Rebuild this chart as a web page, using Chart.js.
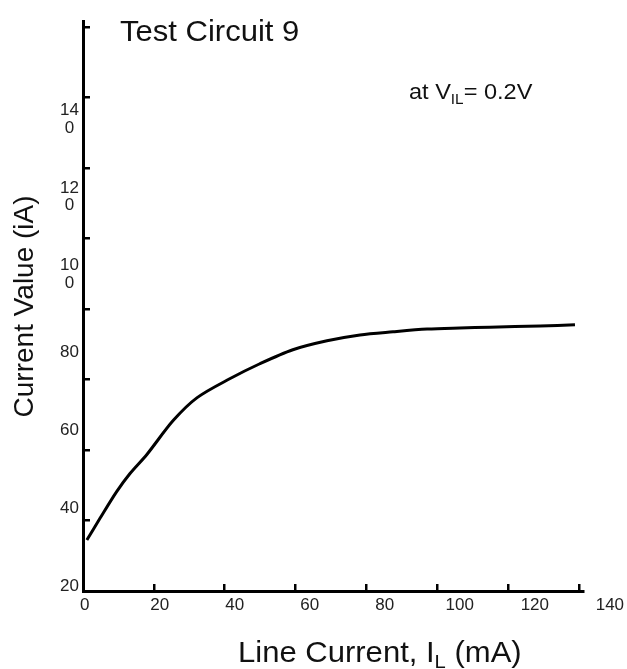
<!DOCTYPE html>
<html><head><meta charset="utf-8">
<script src="https://cdn.jsdelivr.net/npm/chart.js@4.4.1/dist/chart.umd.min.js"></script>
<style>html,body{margin:0;padding:0;background:#fff}#wrap{width:627px;height:669px;position:relative}</style>
</head><body><div id="wrap"><canvas id="c" width="627" height="669"></canvas></div>
<script>
// Data (label units)
const lineCurrent  = [0.6, 4.1, 8.5, 12.1, 16.6, 23.6, 30.0, 38.8, 46.7, 55.5, 64.6, 73.4, 82.2, 91.3, 100.0, 108.0, 121.4, 130.7];
const currentValue = [31.8, 37.4, 44.2, 48.9, 53.8, 62.5, 68.4, 73.3, 77.1, 80.7, 83.0, 84.5, 85.3, 86.0, 86.3, 86.5, 86.8, 87.1];

// Tick labels
const xTickValues = [0, 20, 40, 60, 80, 100, 120, 140];
const xTickLabels = ['0', '20', '40', '60', '80', '100', '120', '140'];
const yTickValues = [20, 40, 60, 80, 100, 120, 140];
const yTickLabels = [['20'], ['40'], ['60'], ['80'], ['10', '0'], ['12', '0'], ['14', '0']];

// Tick marks drawn on the axes
const xMarkValues = [0, 20, 40, 60, 80, 100, 120, 140];
const yMarkValues = [20, 40, 60, 80, 100, 120, 140, 160, 180];

const chartTitle = 'Test Circuit 9';
const yTitle = 'Current Value (iA)';
const noteParts = [{t: 'at V'}, {t: 'IL', sub: true}, {t: '= 0.2V'}];
const xTitleParts = [{t: 'Line Current, I'}, {t: 'L', sub: true}, {t: ' (mA)'}];

const FONT = "'Liberation Sans', Arial, sans-serif";
const STRETCH = 1.07;

function drawRich(ctx, x, y, parts, size) {
  ctx.save();
  ctx.translate(x, y);
  ctx.scale(STRETCH, 1);
  let cx = 0;
  for (const p of parts) {
    const s = p.sub ? size * 0.65 : size;
    ctx.font = s + 'px ' + FONT;
    ctx.fillText(p.t, cx, p.sub ? size * 0.22 : 0);
    cx += ctx.measureText(p.t).width;
  }
  ctx.restore();
}

const textPlugin = {
  id: 'texts',
  afterDraw(chart) {
    const {ctx, chartArea: a} = chart;
    ctx.save();
    ctx.fillStyle = '#111';
    ctx.textBaseline = 'alphabetic';
    ctx.textAlign = 'left';
    drawRich(ctx, a.left + 37, a.top + 19, [{t: chartTitle}], 29);
    drawRich(ctx, a.left + 326, a.top + 77, noteParts, 22);
    drawRich(ctx, a.left + 155, a.bottom + 71, xTitleParts, 29);
    ctx.restore();
  }
};

Chart.defaults.font.family = FONT;

new Chart(document.getElementById('c'), {
  type: 'line',
  data: {
    datasets: [{
      data: lineCurrent.map((x, i) => ({x: x, y: currentValue[i]})),
      xAxisID: 'x2',
      yAxisID: 'y2',
      borderColor: '#000',
      borderWidth: 3,
      pointRadius: 0,
      fill: false,
      tension: 0.3
    }]
  },
  options: {
    responsive: false,
    animation: false,
    devicePixelRatio: 1,
    layout: {padding: {top: 20, right: 44, left: 0, bottom: 0}},
    plugins: {legend: {display: false}, tooltip: {enabled: false}, title: {display: false}},
    scales: {
      x: {
        type: 'linear', position: 'bottom', weight: 0, min: 0, max: 141.1,
        afterBuildTicks: s => { s.ticks = xMarkValues.map(v => ({value: v})); },
        afterFit: s => { s.height = 0; },
        ticks: {display: false},
        grid: {display: true, drawOnChartArea: false, drawTicks: true, tickLength: -7, color: '#000', lineWidth: 2.5},
        border: {display: true, color: '#000', width: 3}
      },
      x2: {
        type: 'linear', position: 'bottom', weight: 1, min: -0.43, max: 132.84,
        afterBuildTicks: s => { s.ticks = xTickValues.map(v => ({value: v})); },
        afterFit: s => { s.height = 78; },
        ticks: {autoSkip: false, maxRotation: 0, minRotation: 0, padding: 5, color: '#222',
                font: {size: 17, lineHeight: 1.05}, callback: (v, i) => xTickLabels[i]},
        grid: {display: false, drawTicks: false},
        border: {display: false}
      },
      y: {
        type: 'linear', position: 'left', weight: 0, min: 20, max: 181.4,
        afterBuildTicks: s => { s.ticks = yMarkValues.map(v => ({value: v})); },
        afterFit: s => { s.width = 0; },
        ticks: {display: false},
        grid: {display: true, drawOnChartArea: false, drawTicks: true, tickLength: -7, color: '#000', lineWidth: 2.5},
        border: {display: true, color: '#000', width: 3}
      },
      y2: {
        type: 'linear', position: 'left', weight: 1, min: 18.72, max: 164.94,
        afterBuildTicks: s => { s.ticks = yTickValues.map(v => ({value: v})); },
        afterFit: s => { s.width = 83; },
        ticks: {autoSkip: false, crossAlign: 'center', padding: 4, color: '#222',
                font: {size: 17, lineHeight: 1.05}, callback: (v, i) => yTickLabels[i]},
        grid: {display: false, drawTicks: false},
        border: {display: false},
        title: {display: true, text: yTitle, color: '#111', font: {size: 28}, padding: {top: 8, bottom: 0}}
      }
    }
  },
  plugins: [textPlugin]
});
</script>
</body></html>
